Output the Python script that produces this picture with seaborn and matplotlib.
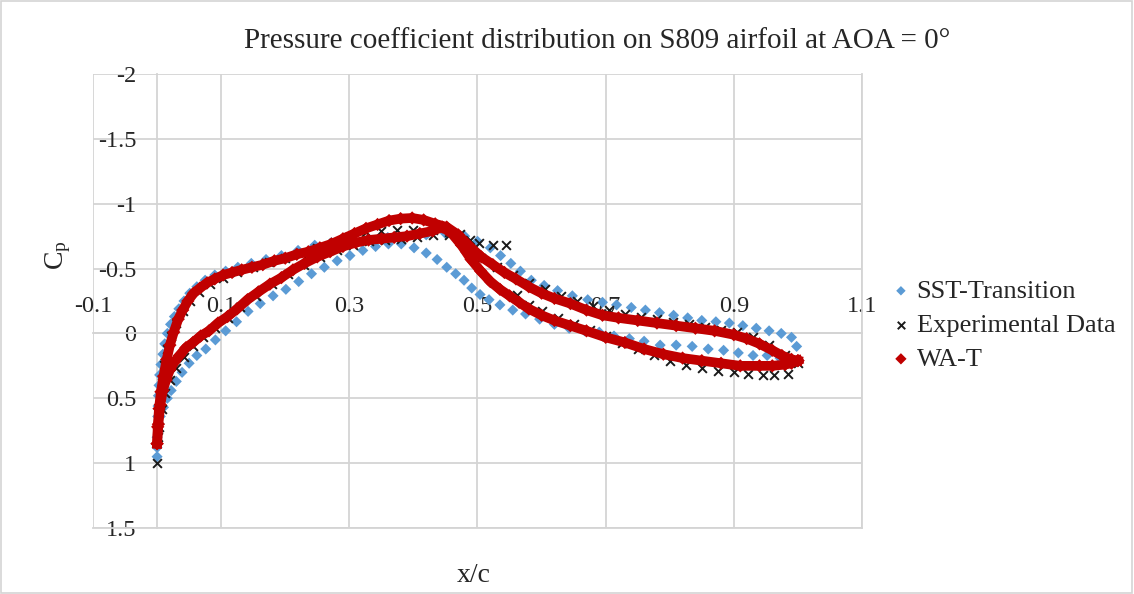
import matplotlib
matplotlib.use("Agg")
import matplotlib.pyplot as plt
from matplotlib.patches import Rectangle
import seaborn as sns

# ---------------- data ----------------
series_names = ["SST-Transition", "Experimental Data", "WA-T"]

sst_upper_x = [0.000, 0.000, 0.000, 0.0005, 0.001, 0.0015, 0.002, 0.003, 0.004, 0.006, 0.009, 0.012, 0.016, 0.021,
               0.027, 0.034, 0.042, 0.051, 0.062, 0.075, 0.090, 0.107, 0.126, 0.147, 0.170, 0.194, 0.220, 0.246,
               0.272, 0.300, 0.330, 0.360, 0.390, 0.420, 0.450, 0.480, 0.500, 0.520, 0.536, 0.552, 0.567, 0.584,
               0.604, 0.625, 0.648, 0.672, 0.695, 0.717, 0.740, 0.762, 0.784, 0.806, 0.828, 0.850, 0.872, 0.893,
               0.914, 0.935, 0.955, 0.974, 0.990, 0.998]
sst_upper_cp = [0.95, 0.88, 0.80, 0.72, 0.64, 0.56, 0.48, 0.40, 0.32, 0.24, 0.16, 0.08, 0.00, -0.07,
                -0.13, -0.19, -0.25, -0.31, -0.36, -0.41, -0.45, -0.48, -0.51, -0.54, -0.57, -0.60, -0.64, -0.68,
                -0.70, -0.72, -0.73, -0.74, -0.75, -0.76, -0.77, -0.75, -0.71, -0.66, -0.60, -0.54, -0.48, -0.41,
                -0.37, -0.33, -0.29, -0.26, -0.24, -0.22, -0.20, -0.18, -0.16, -0.14, -0.12, -0.10, -0.09, -0.08,
                -0.06, -0.04, -0.02, 0.00, 0.03, 0.10]
sst_lower_x = [0.002, 0.005, 0.010, 0.016, 0.022, 0.030, 0.039, 0.050, 0.062, 0.076, 0.091, 0.107, 0.124, 0.142,
               0.161, 0.181, 0.201, 0.221, 0.241, 0.261, 0.281, 0.301, 0.321, 0.341, 0.361, 0.381, 0.401, 0.420,
               0.437, 0.452, 0.466, 0.479, 0.491, 0.504, 0.518, 0.535, 0.555, 0.575, 0.597, 0.620, 0.643, 0.667,
               0.690, 0.713, 0.737, 0.760, 0.785, 0.810, 0.835, 0.860, 0.884, 0.907, 0.930, 0.952, 0.972, 0.988]
sst_lower_cp = [0.70, 0.64, 0.57, 0.50, 0.44, 0.37, 0.30, 0.23, 0.17, 0.12, 0.05, -0.02, -0.09, -0.17,
                -0.23, -0.29, -0.34, -0.40, -0.46, -0.51, -0.56, -0.60, -0.64, -0.67, -0.69, -0.69, -0.66, -0.62,
                -0.57, -0.51, -0.46, -0.41, -0.35, -0.30, -0.26, -0.22, -0.18, -0.15, -0.11, -0.07, -0.04, -0.02,
                -0.01, 0.02, 0.04, 0.06, 0.09, 0.09, 0.10, 0.12, 0.13, 0.15, 0.17, 0.17, 0.19, 0.20]

exp_upper_x = [0.002, 0.004, 0.007, 0.011, 0.016, 0.022, 0.030, 0.040, 0.052, 0.066, 0.083, 0.103, 0.125, 0.150,
               0.175, 0.200, 0.225, 0.250, 0.275, 0.300, 0.326, 0.350, 0.375, 0.400, 0.430, 0.455, 0.480, 0.505,
               0.530, 0.555, 0.580, 0.605, 0.630, 0.655, 0.680, 0.705, 0.730, 0.755, 0.780, 0.805, 0.830, 0.855,
               0.880, 0.905, 0.930, 0.955, 0.980, 1.000]
exp_upper_cp = [0.80, 0.55, 0.38, 0.24, 0.12, 0.02, -0.08, -0.17, -0.25, -0.32, -0.38, -0.43, -0.47, -0.51,
                -0.55, -0.58, -0.62, -0.66, -0.70, -0.74, -0.78, -0.79, -0.80, -0.80, -0.80, -0.76, -0.66, -0.58,
                -0.51, -0.45, -0.39, -0.34, -0.29, -0.25, -0.21, -0.18, -0.15, -0.13, -0.11, -0.09, -0.07, -0.05,
                -0.03, -0.01, 0.03, 0.09, 0.17, 0.23]
exp_lower_x = [0.000, 0.003, 0.007, 0.013, 0.020, 0.030, 0.042, 0.056, 0.072, 0.090, 0.110, 0.130, 0.155, 0.180,
               0.205, 0.230, 0.255, 0.280, 0.305, 0.330, 0.355, 0.380, 0.405, 0.430, 0.455, 0.472, 0.488, 0.503,
               0.524, 0.545, 0.562, 0.580, 0.600, 0.625, 0.650, 0.675, 0.700, 0.725, 0.750, 0.775, 0.800, 0.825,
               0.850, 0.875, 0.900, 0.922, 0.945, 0.962, 0.985]
exp_lower_cp = [1.00, 0.72, 0.58, 0.46, 0.36, 0.27, 0.18, 0.10, 0.03, -0.04, -0.12, -0.20, -0.29, -0.38,
                -0.46, -0.53, -0.59, -0.64, -0.68, -0.71, -0.72, -0.73, -0.74, -0.76, -0.78, -0.77, -0.72, -0.70,
                -0.68, -0.68, -0.30, -0.22, -0.17, -0.12, -0.07, -0.03, 0.02, 0.07, 0.12, 0.17, 0.21, 0.24,
                0.27, 0.29, 0.30, 0.31, 0.32, 0.32, 0.31]

wat_upper_x = [0.000, 0.001, 0.003, 0.006, 0.010, 0.015, 0.020, 0.026, 0.033, 0.040, 0.048, 0.057, 0.067, 0.078,
               0.090, 0.103, 0.117, 0.132, 0.148, 0.165, 0.183, 0.200, 0.218, 0.236, 0.254, 0.272, 0.290, 0.308,
               0.326, 0.344, 0.362, 0.380, 0.398, 0.416, 0.434, 0.452, 0.470, 0.488, 0.506, 0.524, 0.542, 0.560,
               0.580, 0.600, 0.620, 0.645, 0.670, 0.695, 0.720, 0.750, 0.780, 0.810, 0.840, 0.870, 0.900, 0.920,
               0.940, 0.960, 0.975, 0.990, 1.000]
wat_upper_cp = [0.85, 0.72, 0.58, 0.45, 0.33, 0.20, 0.09, -0.01, -0.11, -0.18, -0.25, -0.31, -0.35, -0.39,
                -0.42, -0.45, -0.47, -0.49, -0.51, -0.53, -0.56, -0.58, -0.61, -0.63, -0.66, -0.69, -0.73, -0.77,
                -0.81, -0.84, -0.87, -0.885, -0.89, -0.875, -0.845, -0.82, -0.76, -0.67, -0.59, -0.53, -0.47, -0.42,
                -0.36, -0.31, -0.27, -0.23, -0.18, -0.14, -0.12, -0.10, -0.08, -0.06, -0.04, -0.02, 0.01, 0.04,
                0.08, 0.13, 0.17, 0.20, 0.21]
wat_lower_x = [0.000, 0.002, 0.005, 0.009, 0.014, 0.020, 0.027, 0.035, 0.045, 0.056, 0.068, 0.081, 0.095, 0.110,
               0.125, 0.141, 0.158, 0.176, 0.194, 0.212, 0.230, 0.250, 0.270, 0.290, 0.310, 0.330, 0.350, 0.370,
               0.390, 0.410, 0.430, 0.445, 0.460, 0.475, 0.490, 0.505, 0.520, 0.535, 0.550, 0.565, 0.580, 0.600,
               0.620, 0.645, 0.670, 0.700, 0.730, 0.760, 0.790, 0.820, 0.850, 0.880, 0.910, 0.940, 0.960, 0.980,
               0.990, 1.000]
wat_lower_cp = [0.85, 0.70, 0.55, 0.44, 0.36, 0.28, 0.22, 0.17, 0.11, 0.07, 0.02, -0.02, -0.08, -0.13,
                -0.19, -0.26, -0.32, -0.38, -0.43, -0.49, -0.54, -0.59, -0.63, -0.67, -0.70, -0.72, -0.73, -0.74,
                -0.75, -0.77, -0.79, -0.82, -0.77, -0.68, -0.57, -0.48, -0.40, -0.34, -0.29, -0.24, -0.19, -0.14,
                -0.10, -0.06, -0.02, 0.03, 0.07, 0.12, 0.16, 0.19, 0.21, 0.23, 0.25, 0.25, 0.25, 0.24,
                0.23, 0.21]

x_ticks = [-0.1, 0.1, 0.3, 0.5, 0.7, 0.9, 1.1]
x_tick_labels = ["-0.1", "0.1", "0.3", "0.5", "0.7", "0.9", "1.1"]
y_ticks = [-2, -1.5, -1, -0.5, 0, 0.5, 1, 1.5]
y_tick_labels = ["-2", "-1.5", "-1", "-0.5", "0", "0.5", "1", "1.5"]

title_text = "Pressure coefficient distribution on S809 airfoil at AOA = 0°"

# ---------------- style ----------------
plt.rcParams["font.family"] = ["Liberation Serif", "DejaVu Serif"]
plt.rcParams["axes.unicode_minus"] = False
plt.rcParams["mathtext.default"] = "regular"

BLUE = "#5B9BD5"
RED = "#C00000"
BLACK = "#1a1a1a"
GRID = "#d4d4d4"
TXT = "#262626"

W, H = 1134, 594
fig, ax = plt.subplots(figsize=(W / 100, H / 100), dpi=100)
fig.subplots_adjust(left=93 / W, right=862 / W, top=1 - 74 / H, bottom=1 - 528 / H)

sns.scatterplot(x=sst_upper_x + sst_lower_x, y=sst_upper_cp + sst_lower_cp, marker="D", s=32,
                color=BLUE, edgecolor="none", label=series_names[0], ax=ax, zorder=3)
sns.scatterplot(x=exp_upper_x + exp_lower_x, y=exp_upper_cp + exp_lower_cp, marker="x", s=40,
                color=BLACK, linewidth=1.4, label=series_names[1], ax=ax, zorder=4)
sns.lineplot(x=wat_upper_x, y=wat_upper_cp, sort=False, estimator=None, color=RED, lw=7,
             legend=False, ax=ax, zorder=5)
sns.lineplot(x=wat_lower_x, y=wat_lower_cp, sort=False, estimator=None, color=RED, lw=7,
             legend=False, ax=ax, zorder=5)
sns.scatterplot(x=wat_upper_x + wat_lower_x, y=wat_upper_cp + wat_lower_cp, marker="D", s=46,
                color=RED, edgecolor="none", label=series_names[2], ax=ax, zorder=6)

ax.set_xlim(-0.1, 1.1)
ax.set_ylim(1.5, -2)
ax.set_xticks(x_ticks, x_tick_labels)
ax.set_yticks(y_ticks, y_tick_labels)
ax.grid(True, color=GRID, lw=1.3)
ax.set_axisbelow(True)

ax.spines["left"].set_position(("data", 0))
ax.spines["top"].set_position(("data", 0))
ax.xaxis.set_ticks_position("top")
for s in ax.spines.values():
    s.set_color(GRID)
    s.set_linewidth(1.3)
ax.tick_params(axis="both", length=0, labelsize=17.5, labelcolor=TXT)
ax.tick_params(axis="x", pad=12)
ax.tick_params(axis="y", pad=15)

ax.set_title(title_text, fontsize=21, color=TXT, x=0.655, pad=19)
ax.set_xlabel("x/c", fontsize=20, color=TXT, va="center")
ax.xaxis.set_label_position("bottom")
ax.xaxis.set_label_coords(0.495, -0.077)
ax.set_ylabel(r"C$_{p}$", fontsize=20, color=TXT, va="center")
ax.yaxis.set_label_coords(-0.045, 0.60)

handles, labels = ax.get_legend_handles_labels()
ax.legend(handles, labels, loc="center left", bbox_to_anchor=(893 / W, 1 - 325 / H),
          bbox_transform=fig.transFigure, frameon=False, fontsize=19, handlelength=0.6,
          handletextpad=0.3, labelspacing=0.4, markerscale=0.85, borderaxespad=0, borderpad=0,
          labelcolor=TXT)

fig.patches.append(Rectangle((0.001, 0.002), 0.997, 0.996, transform=fig.transFigure,
                             fill=False, edgecolor=GRID, lw=1.2))

fig.savefig("out.png", dpi=100)
